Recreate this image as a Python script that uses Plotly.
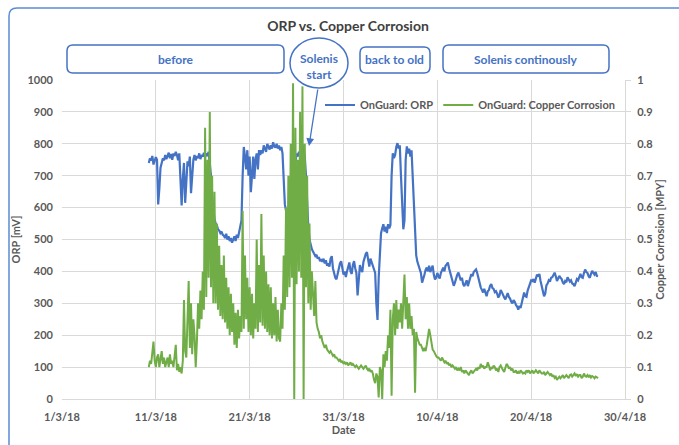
import pandas as pd
import plotly.graph_objects as go

# ---------------- data ----------------
START = "2018-03-10 06:00"   # first sample
STEP = "3h"                  # sampling interval

ORP = [  # OnGuard: ORP [mV], one row per day (8 samples)
    740, 755, 748, 762, 735, 745, 758, 750,
    610, 660, 725, 740, 755, 748, 765, 752,
    760, 772, 755, 768, 750, 770, 762, 775,
    765, 748, 770, 700, 607, 690, 740, 615,
    690, 745, 730, 760, 645, 720, 750, 765,
    748, 762, 755, 770, 752, 765, 760, 772,
    758, 770, 762, 775, 745, 700, 620, 585,
    565, 550, 545, 532, 528, 520, 525, 515,
    512, 505, 518, 500, 510, 495, 505, 490,
    500, 510, 495, 515, 505, 520, 535, 560,
    700, 790, 760, 720, 780, 700, 760, 648,
    700, 760, 690, 750, 770, 720, 780, 765,
    780, 770, 795, 785, 775, 800, 790, 782,
    795, 785, 805, 792, 788, 800, 785, 795,
    780, 790, 770, 700, 610, 590, 570, 565,
    585, 600, 640, 680, 720, 740, 770, 760,
    775, 765, 790, 798, 780, 760, 700, 600,
    540, 500, 480, 470, 462, 455, 448, 452,
    440, 445, 432, 438, 430, 440, 425, 435,
    418, 425, 415, 440, 448, 410, 395, 380,
    375, 395, 410, 425, 432, 405, 390, 400,
    382, 400, 420, 428, 400, 392, 420, 432,
    410, 395, 325, 390, 420, 405, 398, 430,
    445, 455, 460, 430, 415, 440, 430, 420,
    410, 395, 300, 248, 380, 440, 520, 535,
    548, 525, 540, 520, 548, 535, 545, 700,
    770, 755, 765, 790, 802, 785, 795, 700,
    620, 532, 560, 750, 792, 770, 785, 760,
    780, 700, 600, 520, 450, 430, 420, 405,
    395, 365, 375, 390, 405, 412, 400, 418,
    398, 410, 418, 390, 375, 380, 395, 385,
    378, 395, 402, 412, 400, 418, 422, 428,
    410, 398, 380, 368, 355, 365, 382, 390,
    396, 385, 372, 380, 360, 354, 362, 372,
    354, 368, 380, 392, 385, 398, 402, 406,
    395, 378, 368, 350, 342, 334, 345, 330,
    322, 338, 342, 355, 360, 348, 345, 335,
    338, 330, 318, 325, 342, 335, 325, 318,
    312, 325, 332, 320, 315, 305, 300, 310,
    305, 295, 290, 280, 292, 285, 300, 315,
    334, 322, 320, 340, 352, 365, 372, 370,
    376, 365, 382, 390, 384, 392, 370, 355,
    340, 322, 330, 356, 362, 372, 368, 380,
    382, 390, 396, 385, 370, 378, 386, 380,
    376, 365, 360, 370, 366, 382, 375, 368,
    372, 362, 360, 354, 365, 376, 372, 385,
    392, 382, 380, 395, 406, 398, 395, 385,
    380, 392, 402, 395, 390, 398, 386, 385,
]

COPPER = [  # OnGuard: Copper Corrosion [MPY], one row per day (8 samples)
    0.10, 0.12, 0.11, 0.14, 0.18, 0.12, 0.10, 0.13,
    0.14, 0.10, 0.12, 0.15, 0.11, 0.13, 0.10, 0.12,
    0.13, 0.10, 0.14, 0.11, 0.12, 0.10, 0.15, 0.17,
    0.09, 0.11, 0.085, 0.10, 0.08, 0.12, 0.31, 0.15,
    0.13, 0.28, 0.37, 0.16, 0.30, 0.14, 0.25, 0.20,
    0.10, 0.18, 0.30, 0.22, 0.34, 0.25, 0.40, 0.28,
    0.85, 0.32, 0.75, 0.38, 0.90, 0.35, 0.70, 0.30,
    0.65, 0.30, 0.55, 0.28, 0.48, 0.26, 0.42, 0.25,
    0.45, 0.24, 0.38, 0.22, 0.35, 0.20, 0.33, 0.21,
    0.30, 0.17, 0.27, 0.16, 0.28, 0.19, 0.26, 0.21,
    0.59, 0.22, 0.45, 0.25, 0.38, 0.21, 0.35, 0.20,
    0.33, 0.19, 0.30, 0.22, 0.50, 0.21, 0.42, 0.24,
    0.58, 0.23, 0.45, 0.22, 0.40, 0.21, 0.36, 0.20,
    0.35, 0.19, 0.30, 0.20, 0.32, 0.18, 0.28, 0.19,
    0.18, 0.30, 0.22, 0.45, 0.28, 0.60, 0.32, 0.70,
    0.35, 0.80, 0.38, 0.99, 0.00, 0.85, 0.36, 0.75,
    0.40, 0.90, 0.38, 0.98, 0.00, 0.80, 0.35, 0.70,
    0.30, 0.55, 0.28, 0.40, 0.30, 0.26, 0.37, 0.24,
    0.22, 0.21, 0.19, 0.20, 0.18, 0.17, 0.16, 0.17,
    0.155, 0.15, 0.145, 0.15, 0.14, 0.135, 0.14, 0.13,
    0.13, 0.125, 0.12, 0.125, 0.115, 0.12, 0.11, 0.115,
    0.11, 0.115, 0.105, 0.11, 0.115, 0.105, 0.11, 0.105,
    0.10, 0.105, 0.10, 0.095, 0.10, 0.105, 0.10, 0.095,
    0.10, 0.105, 0.095, 0.09, 0.095, 0.085, 0.09, 0.08,
    0.06, 0.05, 0.08, 0.07, 0.005, 0.10, 0.09, 0.00,
    0.14, 0.10, 0.15, 0.12, 0.20, 0.16, 0.28, 0.01,
    0.25, 0.30, 0.20, 0.31, 0.22, 0.28, 0.24, 0.30,
    0.22, 0.30, 0.39, 0.25, 0.32, 0.22, 0.30, 0.22,
    0.26, 0.20, 0.22, 0.02, 0.21, 0.19, 0.18, 0.17,
    0.17, 0.16, 0.15, 0.16, 0.15, 0.17, 0.19, 0.22,
    0.20, 0.17, 0.155, 0.15, 0.14, 0.135, 0.13, 0.13,
    0.125, 0.12, 0.13, 0.12, 0.115, 0.12, 0.11, 0.115,
    0.105, 0.11, 0.10, 0.105, 0.10, 0.095, 0.10, 0.09,
    0.095, 0.09, 0.10, 0.085, 0.09, 0.08, 0.09, 0.085,
    0.08, 0.075, 0.085, 0.09, 0.08, 0.085, 0.09, 0.095,
    0.09, 0.10, 0.095, 0.11, 0.10, 0.105, 0.095, 0.10,
    0.10, 0.115, 0.105, 0.09, 0.10, 0.095, 0.105, 0.10,
    0.09, 0.095, 0.085, 0.10, 0.105, 0.095, 0.09, 0.085,
    0.10, 0.11, 0.105, 0.095, 0.10, 0.09, 0.095, 0.085,
    0.085, 0.09, 0.08, 0.085, 0.08, 0.09, 0.085, 0.08,
    0.083, 0.08, 0.09, 0.085, 0.09, 0.08, 0.085, 0.09,
    0.08, 0.085, 0.09, 0.085, 0.08, 0.09, 0.085, 0.08,
    0.08, 0.085, 0.075, 0.08, 0.085, 0.08, 0.075, 0.08,
    0.07, 0.075, 0.066, 0.07, 0.06, 0.065, 0.07, 0.065,
    0.07, 0.075, 0.065, 0.07, 0.075, 0.07, 0.065, 0.075,
    0.077, 0.07, 0.075, 0.08, 0.072, 0.078, 0.07, 0.075,
    0.075, 0.065, 0.07, 0.08, 0.072, 0.07, 0.075, 0.068,
    0.075, 0.067, 0.072, 0.07, 0.065, 0.07, 0.068, 0.065,
]

X_TICK_DATES = ["2018-03-01", "2018-03-11", "2018-03-21", "2018-03-31",
                "2018-04-10", "2018-04-20", "2018-04-30"]
X_TICK_LABELS = ["1/3/18", "11/3/18", "21/3/18", "31/3/18",
                 "10/4/18", "20/4/18", "30/4/18"]

PHASE_LABELS = ["before", "Solenis<br>start", "back to old", "Solenis continously"]

# ---------------- layout helpers ----------------
W, H = 679, 445
PX_L, PX_R, PX_T, PX_B = 62, 625, 80, 399


def fx(px):
    return (px - PX_L) / (PX_R - PX_L)


def fy(py):
    return (PX_B - py) / (PX_B - PX_T)


def rrect(x0, y0, x1, y1, r=6):
    pts = [
        ("M", [(x0 + r, y0)]), ("L", [(x1 - r, y0)]), ("Q", [(x1, y0), (x1, y0 + r)]),
        ("L", [(x1, y1 - r)]), ("Q", [(x1, y1), (x1 - r, y1)]),
        ("L", [(x0 + r, y1)]), ("Q", [(x0, y1), (x0, y1 - r)]),
        ("L", [(x0, y0 + r)]), ("Q", [(x0, y0), (x0 + r, y0)]),
    ]
    s = ""
    for cmd, ps in pts:
        s += cmd + " " + " ".join(f"{fx(a):.5f},{fy(b):.5f}" for a, b in ps) + " "
    return s + "Z"


BLUE = "#4472C4"
GREEN = "#70AD47"
GRID = "#D9D9D9"
TXT = "#595959"
FONT = "Lato"

t = pd.date_range(START, periods=len(ORP), freq=STEP)
t2 = pd.date_range(START, periods=len(COPPER), freq=STEP)

fig = go.Figure()
fig.add_trace(go.Scatter(x=t, y=ORP, mode="lines", name="OnGuard: ORP",
                         line=dict(color=BLUE, width=2.2)))
fig.add_trace(go.Scatter(x=t2, y=COPPER, mode="lines", name="OnGuard: Copper Corrosion",
                         line=dict(color=GREEN, width=2.0), yaxis="y2"))

fig.update_layout(
    width=W, height=H,
    margin=dict(l=PX_L, r=W - PX_R, t=PX_T, b=H - PX_B),
    paper_bgcolor="white", plot_bgcolor="white",
    font=dict(family=FONT, size=11, color=TXT),
    title=dict(text="ORP vs. Copper Corrosion", x=348 / W, xref="container", xanchor="center",
               y=1 - 26 / H, yanchor="middle",
               font=dict(family=FONT, size=14, color="#404040", weight="bold")),
    xaxis=dict(type="date", range=["2018-03-01", "2018-04-30"], automargin=False,
               tickvals=X_TICK_DATES, ticktext=X_TICK_LABELS,
               showgrid=True, gridcolor=GRID, gridwidth=1,
               showline=True, linecolor=GRID, linewidth=1, ticks="",
               ticklabelstandoff=8, zeroline=False,
               tickfont=dict(family=FONT, size=11, color=TXT, weight="bold"),
               title=dict(text="Date", standoff=2,
                          font=dict(family=FONT, size=11, color=TXT, weight="bold"))),
    yaxis=dict(range=[0, 1000], dtick=100, showgrid=True, gridcolor=GRID, gridwidth=1,
               automargin=False,
               showline=False, zeroline=False, ticks="", ticklabelstandoff=8,
               tickfont=dict(family=FONT, size=11, color=TXT, weight="bold"),
               title=dict(text="ORP [mV]", standoff=4,
                          font=dict(family=FONT, size=11, color=TXT, weight="bold"))),
    yaxis2=dict(range=[0, 1], dtick=0.1, overlaying="y", side="right", showgrid=False,
                automargin=False,
                showline=True, linecolor=GRID, linewidth=1, ticks="outside", ticklen=5,
                tickcolor=GRID, zeroline=False, ticklabelstandoff=4,
                tickfont=dict(family=FONT, size=11, color=TXT, weight="bold"),
                title=dict(text="Copper Corrosion [MPY]", standoff=4,
                           font=dict(family=FONT, size=11, color=TXT, weight="bold"))),
    legend=dict(orientation="h", x=fx(320), y=fy(105), xanchor="left", yanchor="middle",
                bgcolor="rgba(0,0,0,0)", itemwidth=30, tracegroupgap=0,
                font=dict(family=FONT, size=11, color=TXT, weight="bold")),
)

shapes = []
# outer chart border
shapes.append(dict(type="path", xref="paper", yref="paper", path=rrect(9, 8, 720, 470, 8),
                   line=dict(color="#5B8BD6", width=1.5), fillcolor="rgba(0,0,0,0)", layer="below"))
# phase boxes
boxes = [(67, 45, 284, 73), (360, 47, 430, 73), (443, 45, 609, 73)]
for b in boxes:
    shapes.append(dict(type="path", xref="paper", yref="paper", path=rrect(*b, r=6),
                       line=dict(color=BLUE, width=1.5), fillcolor="white"))
shapes.append(dict(type="circle", xref="paper", yref="paper",
                   x0=fx(290), x1=fx(348), y0=fy(88), y1=fy(38),
                   line=dict(color=BLUE, width=1.5), fillcolor="white"))
fig.update_layout(shapes=shapes)

centers = [(175.5, 59), (319, 66), (395, 60), (526, 59)]
for txt, (cx, cy) in zip(PHASE_LABELS, centers):
    fig.add_annotation(x=fx(cx), y=fy(cy), xref="paper", yref="paper", text=txt,
                       showarrow=False, xanchor="center", yanchor="middle",
                       font=dict(family=FONT, size=12, color=BLUE, weight="bold"))

# arrow from the circle to the ORP trace
fig.add_annotation(x=fx(309), y=fy(146), xref="paper", yref="paper", text="",
                   showarrow=True, ax=9, ay=-58, arrowhead=2, arrowsize=1.2,
                   arrowwidth=1.3, arrowcolor=BLUE)

fig.write_html("out.html", config={"displayModeBar": False},
               post_script="document.body.style.margin='0';document.body.style.padding='0';")
